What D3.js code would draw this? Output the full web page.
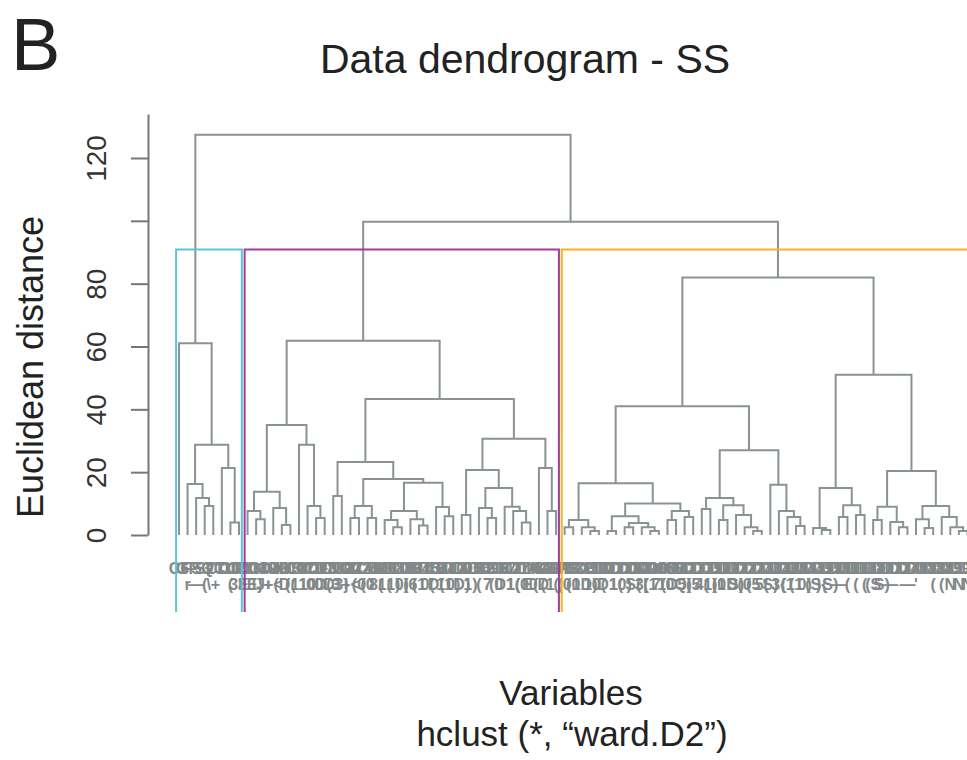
<!DOCTYPE html>
<html>
<head>
<meta charset="utf-8">
<script src="https://cdn.jsdelivr.net/npm/d3@7"></script>
<style>
  body { margin: 0; background: #fff; }
  svg text { font-family: "Liberation Sans", Arial, Helvetica, sans-serif; }
</style>
</head>
<body>
<svg id="dendro" width="967" height="760"></svg>
<script>
// hclust merges: node = [height, left, right], 0 = leaf
const cyanTree = [61.0, 0, [28.7, [16.2, 0, [11.8, 0, [9.2, 0, 0]]], [21.3, 0, [4.0, 0, 0]]]];

const magentaTree = [61.8,
  [35.0, [13.8, [7.6, 0, [5.0, 0, 0]], [8.6, 0, [3.2, 0, 0]]], [28.7, 0, [9.2, 0, [5.4, 0, 0]]]],
  [43.3,
    [23.2, [12.4, 0, 0],
      [17.8, [9.2, [5.4, 0, 0], [5.4, 0, 0]],
        [16.6, [7.6, [4.8, 0, [2.5, 0, 0]], [5.0, 0, [3.0, 0, 0]]], [8.9, 0, [6.0, 0, 0]]]]],
    [30.6, [20.7, [6.4, 0, 0], [15.0, [8.6, 0, [5.4, 0, 0]], [9.0, 0, [7.6, 0, [4.0, 0, 0]]]]],
      [21.3, 0, [7.6, 0, 0]]]]];

const orangeTree = [82.0,
  [41.0,
    [16.5,
      [4.8, [2.5, 0, 0], [2.5, 0, [1.3, 0, 0]]],
      [10.0,
        [6.0, [1.3, 0, 0], [3.8, [2.5, 0, 0], [2.5, 0, [1.3, 0, 0]]]],
        [7.6, [4.8, 0, 0], [5.7, 0, 0]]]],
    [27.0,
      [11.8, [8.3, 0, 0], [9.5, [4.8, 0, 0], [6.4, 0, [2.5, 0, [1.3, 0, 0]]]]],
      [16.0, 0, [7.6, 0, [5.7, 0, [2.9, 0, 0]]]]]],
  [51.0,
    [15.0, [2.2, 0, [1.6, 0, 0]], [9.5, [5.7, 0, 0], [6.4, 0, 0]]],
    [20.4,
      [9.0, [4.8, 0, 0], [4.1, 0, [2.5, 0, 0]]],
      [9.2, [5.0, 0, [2.2, 0, 0]], [5.7, 0, [2.5, 0, [1.3, 0, 0]]]]]]];

const upperHeights = [99.7, 127.4];
const clusterColors = ["#5cc4d6", "#a03c9e", "#f5b320"];

const yTicks = [0, 20, 40, 60, 80, 100, 120];
const yTickLabels = ["0", "20", "40", "60", "80", "", "120"];

const leafNames = ["C6","GP","FS3","S2","QC","CD1","TLR","CD11","CD14","CD19","CD4","CD8","ICOS","IL10","IL17","CXCL",
  "CD28","CD38","IFNG","CD27","IL2","CD25","ICAM","CD69","IL6","CD80","CD86","CCR7","CD45","CD62","IL4","CD40","HLA",
  "CD16","CD56","IL12","CD95","CD57","CD127","PD1","CTLA","TIM3","LAG3","KI67","GZMB","PRF","CD3E","CD5","CD7","CD2",
  "CD1C","CD123","CD11C","CD141","CD209","CD206","CD163","CD64","CD32","CD33","CD13","CD15","CD10","CD20","CD21","CD22",
  "CD23","CD24","CD30","CD34","CD36","CD39","CD44","CD47","CD49","CD52","CD58","CD59","CD61","CD63","CD68","CD70","CD71",
  "CD73","CD74","CD79","CD81","CD83","CD84","CD85","CD90","CD93","CD96"];
const leafCodes = ["", "r", "—", "(", "\\+", "", "(", "3E",
  "3E","3J","}+","+<","(D","((","11","10","0D","0D","(3","3}","+<","(0","(0","8(","1(","1)","0)","(6",
  "(1","0(","D(","11","0)","D)","1)","(","7","(0","D1","1(","(0","E(","0D","(1","(",
  "(0","(1","0D","1)","0(","D1","1(","0)","S(","3(","[1","7(","1D","0Q","5)","(5","4(","1)","(1","0D",
  "S)","(0","(5","5(","S)","3{","(1","(1","0)","(S","){","S)","—","(","(","(","(S","S)","—","","—","'","",
  "(","(","N","N","N"];

const svg = d3.select("#dendro");
const treeColor = "#8a9393";

const root = d3.hierarchy([upperHeights[1], cyanTree, [upperHeights[0], magentaTree, orangeTree]],
  d => Array.isArray(d) ? d.slice(1) : null);
const leaves = root.leaves();

const x = d3.scaleLinear().domain([0, leaves.length - 1]).range([179, 179 + 8.57 * (leaves.length - 1)]);
const y = d3.scaleLinear().domain([0, 120]).range([535, 158]);

leaves.forEach((d, i) => { d.idx = i; d.px = x(i); d.h = 0; });
root.eachAfter(d => {
  if (d.children) {
    d.h = d.data[0];
    d.px = (d.children[0].px + d.children[1].px) / 2;
  }
});

// branches
svg.append("g").selectAll("path")
  .data(root.descendants().filter(d => d.children))
  .join("path")
  .attr("d", d => {
    const [a, b] = d.children;
    return `M${a.px},${y(a.h)}V${y(d.h)}H${b.px}V${y(b.h)}`;
  })
  .attr("fill", "none").attr("stroke", treeColor).attr("stroke-width", 2);

// leaf labels (two rows, overlapping like the original)
const lab = svg.append("g").attr("fill", "#828888").attr("font-size", 16)
  .attr("font-weight", "bold").attr("text-anchor", "middle");
lab.selectAll("text.n").data(leaves).join("text").attr("class", "n")
  .attr("x", d => d.px).attr("y", 574).text(d => leafNames[d.idx] || "");
lab.selectAll("text.c").data(leaves).join("text").attr("class", "c")
  .attr("x", d => d.px).attr("y", 590).text(d => leafCodes[d.idx] || "");

// rect.hclust boxes for k = 3
const sortedH = root.descendants().filter(d => d.children).map(d => d.h).sort((a, b) => b - a);
const k = 3;
const cutHeight = (sortedH[k - 2] + sortedH[k - 1]) / 2;
const yBottom = -24.5;
const clusters = [root.children[0], root.children[1].children[0], root.children[1].children[1]];
svg.append("g").selectAll("path")
  .data(clusters)
  .join("path")
  .attr("d", c => {
    const lv = c.leaves();
    const x0 = x(lv[0].idx - 0.34), x1 = x(lv[lv.length - 1].idx + 0.33);
    return `M${x0},${y(yBottom)}V${y(cutHeight)}H${x1}V${y(yBottom)}`;
  })
  .attr("fill", "none")
  .attr("stroke", (c, i) => clusterColors[i])
  .attr("stroke-width", 2);

// y axis
const yAxisScale = y.copy().domain([0, 134]).range([y(0), y(134)]);
const axisG = svg.append("g").attr("transform", "translate(148,0)")
  .call(d3.axisLeft(yAxisScale).tickValues(yTicks).tickFormat((d, i) => yTickLabels[i])
    .tickSize(17).tickSizeOuter(0));
axisG.select(".domain").attr("stroke", "#777").attr("stroke-width", 2);
axisG.selectAll(".tick line").attr("stroke", "#777").attr("stroke-width", 2);
axisG.selectAll(".tick text")
  .attr("transform", "rotate(-90)")
  .attr("x", 0).attr("y", -52).attr("dy", "0.36em")
  .attr("text-anchor", "middle")
  .attr("font-size", 28).attr("fill", "#333")
  .style("font-family", "'Liberation Sans', Arial, sans-serif");

// titles
svg.append("text").attr("x", 11).attr("y", 70).attr("font-size", 74).attr("fill", "#222").text("B");
svg.append("text").attr("x", 525).attr("y", 73).attr("font-size", 41).attr("fill", "#222")
  .attr("text-anchor", "middle").text("Data dendrogram - SS");
svg.append("text").attr("transform", "translate(43,367) rotate(-90)").attr("font-size", 36).attr("fill", "#222")
  .attr("text-anchor", "middle").text("Euclidean distance");
svg.append("text").attr("x", 571).attr("y", 705).attr("font-size", 35).attr("fill", "#222")
  .attr("text-anchor", "middle").text("Variables");
svg.append("text").attr("x", 572).attr("y", 746).attr("font-size", 35).attr("fill", "#222")
  .attr("text-anchor", "middle").text("hclust (*, “ward.D2”)");
</script>
</body>
</html>
